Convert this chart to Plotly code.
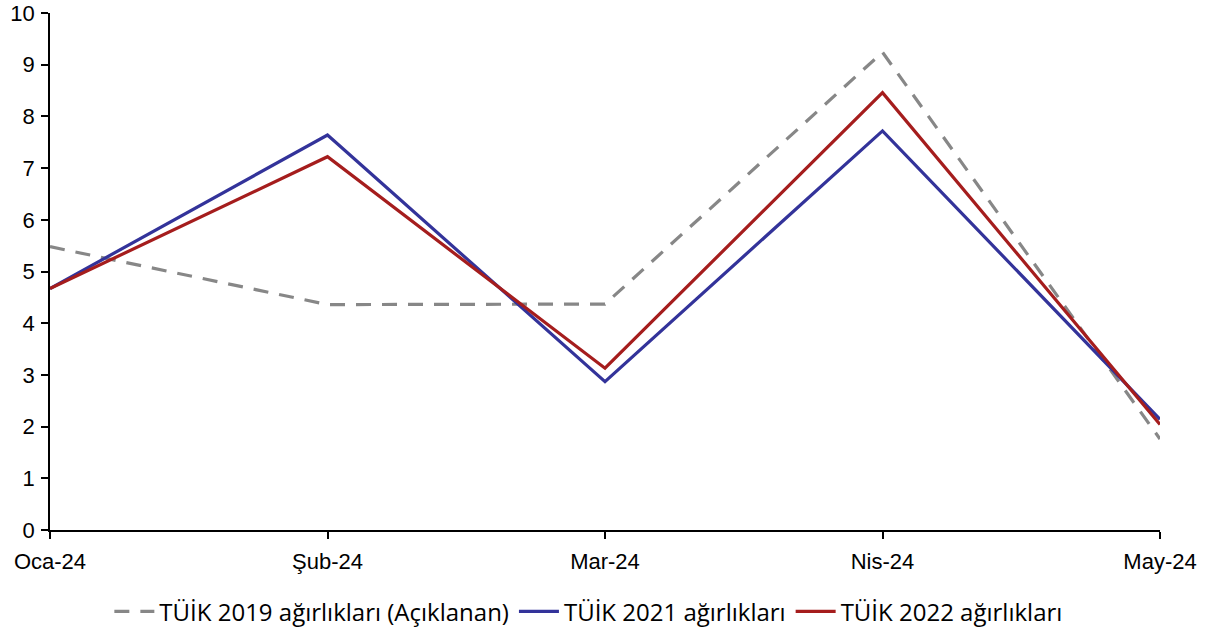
import plotly.graph_objects as go

months = ["Oca-24", "Şub-24", "Mar-24", "Nis-24", "May-24"]
tuik_2019 = [5.48, 4.36, 4.37, 9.24, 1.76]
tuik_2021 = [4.67, 7.64, 2.87, 7.72, 2.14]
tuik_2022 = [4.67, 7.22, 3.13, 8.46, 2.04]

names = ["TÜİK 2019 ağırlıkları (Açıklanan)", "TÜİK 2021 ağırlıkları", "TÜİK 2022 ağırlıkları"]

fig = go.Figure()
fig.add_trace(go.Scatter(
    x=months, y=tuik_2019, name=names[0], mode="lines",
    line=dict(color="#878787", width=3.2, dash="15px,11px")
))
fig.add_trace(go.Scatter(
    x=months, y=tuik_2021, name=names[1], mode="lines",
    line=dict(color="#33339A", width=3.2)
))
fig.add_trace(go.Scatter(
    x=months, y=tuik_2022, name=names[2], mode="lines",
    line=dict(color="#A51D1D", width=3.2)
))

axis_font = dict(family="Liberation Sans, Arial", size=22, color="black")

fig.update_layout(
    width=1210, height=635,
    margin=dict(l=50, r=50, t=13, b=105, autoexpand=False),
    plot_bgcolor="white", paper_bgcolor="white",
    showlegend=True,
    legend=dict(
        orientation="h", x=0.485, xanchor="center", y=-0.158, yanchor="middle",
        font=dict(family="Open Sans, Noto Sans", size=24, color="black"),
        itemwidth=40, tracegroupgap=0,
    ),
    xaxis=dict(
        type="category", range=[0, 4], showgrid=False, zeroline=False,
        showline=True, linecolor="black", linewidth=1.5, automargin=False,
        ticks="outside", ticklen=7, tickwidth=1.5, tickcolor="black",
        tickfont=axis_font, ticklabelstandoff=4,
    ),
    yaxis=dict(
        range=[0, 10], dtick=1, showgrid=False, zeroline=False,
        showline=True, linecolor="black", linewidth=1.5, automargin=False,
        ticks="outside", ticklen=7, tickwidth=1.5, tickcolor="black",
        tickfont=axis_font, ticklabelstandoff=2,
    ),
)

# drop the page's default body margin so the figure sits at the window's corner
fig.write_html(
    "out.html",
    config={"displayModeBar": False},
    post_script="document.body.style.margin='0';",
)
